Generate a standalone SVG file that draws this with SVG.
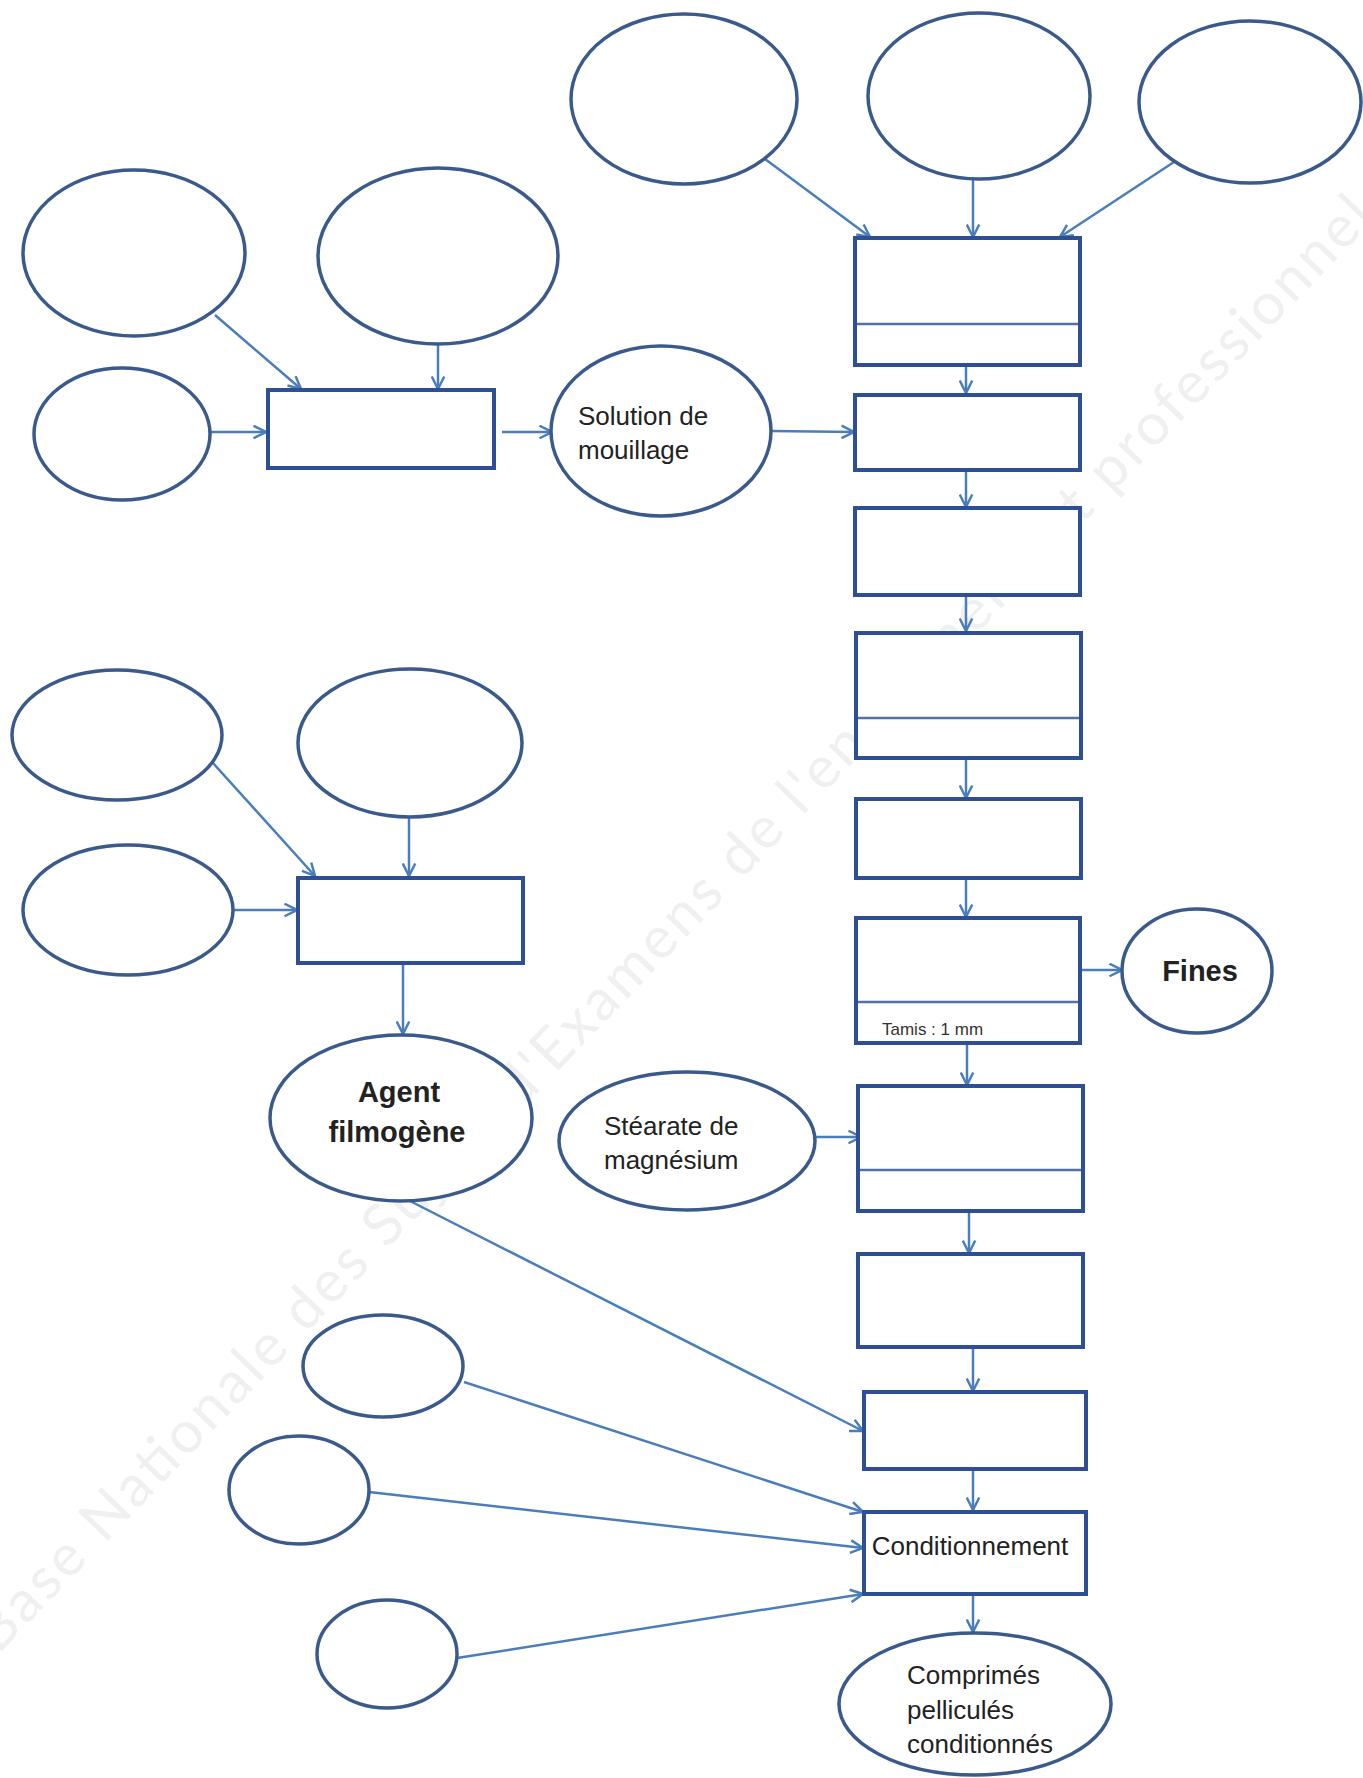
<svg xmlns="http://www.w3.org/2000/svg" width="1363" height="1778" viewBox="0 0 1363 1778">
<style>
.n{fill:#fff;stroke:#3a5a8c;stroke-width:3.5}
.r{fill:#fff;stroke:#2f4f94;stroke-width:4}
.d{stroke:#4f72aa;stroke-width:2.5}
.c{fill:none;stroke:#4a7ebb;stroke-width:2.5;marker-end:url(#ah)}
.t{font-family:"Liberation Sans",Arial,sans-serif;font-size:26px;fill:#222}
.b{font-weight:bold;font-size:29px}
.wm{font-family:Lato,"Open Sans",sans-serif;font-size:58px;fill:#f0f0f0}
</style>
<defs>
<marker id="ah" viewBox="0 0 12 12" refX="11" refY="6" markerWidth="15" markerHeight="15" markerUnits="userSpaceOnUse" orient="auto">
<path d="M1,1 L11,6 L1,11" fill="none" stroke="#4a7ebb" stroke-width="2"/>
</marker>
</defs>
<rect width="1363" height="1778" fill="#fff"/>
<text class="wm" transform="translate(-2,1655) rotate(-46.2)" textLength="1990" lengthAdjust="spacing">Base Nationale des Sujets d'Examens de l'enseignement professionnel</text>

<g id="connectors">
<line class="c" x1="215" y1="315" x2="301" y2="389"/>
<line class="c" x1="438" y1="345" x2="438" y2="389"/>
<line class="c" x1="211" y1="432" x2="266" y2="432"/>
<line class="c" x1="502" y1="432" x2="552" y2="432"/>
<line class="c" x1="771" y1="431" x2="854" y2="432"/>
<line class="c" x1="765" y1="159" x2="870" y2="237"/>
<line class="c" x1="973" y1="180" x2="973" y2="237"/>
<line class="c" x1="1174" y1="162" x2="1060" y2="237"/>
<line class="c" x1="966" y1="324" x2="966" y2="393"/>
<line class="c" x1="966" y1="470" x2="966" y2="507"/>
<line class="c" x1="966" y1="595" x2="966" y2="631"/>
<line class="c" x1="966" y1="718" x2="966" y2="798"/>
<line class="c" x1="966" y1="878" x2="966" y2="917"/>
<line class="c" x1="1082" y1="970" x2="1122" y2="970"/>
<line class="c" x1="967" y1="1043" x2="967" y2="1085"/>
<line class="c" x1="815" y1="1137" x2="861" y2="1137"/>
<line class="c" x1="969" y1="1170" x2="969" y2="1253"/>
<line class="c" x1="973" y1="1347" x2="973" y2="1391"/>
<line class="c" x1="973" y1="1469" x2="973" y2="1510"/>
<line class="c" x1="973" y1="1594" x2="973" y2="1632"/>
<line class="c" x1="212" y1="762" x2="315" y2="876"/>
<line class="c" x1="409" y1="817" x2="409" y2="876"/>
<line class="c" x1="234" y1="910" x2="297" y2="910"/>
<line class="c" x1="403" y1="963" x2="403" y2="1034"/>
<line class="c" x1="408" y1="1200" x2="863" y2="1431"/>
<line class="c" x1="464" y1="1382" x2="863" y2="1512"/>
<line class="c" x1="369" y1="1492" x2="863" y2="1548"/>
<line class="c" x1="457" y1="1658" x2="863" y2="1594"/>
</g>

<g id="top1"><ellipse class="n" cx="684" cy="99" rx="113" ry="85"/></g>
<g id="top2"><ellipse class="n" cx="979" cy="96" rx="111" ry="83"/></g>
<g id="top3"><ellipse class="n" cx="1250" cy="102" rx="111" ry="81"/></g>

<g id="ellA"><ellipse class="n" cx="134" cy="253" rx="111" ry="83"/></g>
<g id="ellB"><ellipse class="n" cx="438" cy="256" rx="120" ry="88"/></g>
<g id="ellC"><ellipse class="n" cx="122" cy="434" rx="88" ry="66"/></g>
<g id="box1"><rect class="r" x="268" y="390" width="226" height="78"/></g>
<g id="solution">
<ellipse class="n" cx="661" cy="431" rx="110" ry="85"/>
<text class="t" x="578" y="425">Solution de</text>
<text class="t" x="578" y="459">mouillage</text>
</g>

<g id="step1"><rect class="r" x="855" y="238" width="225" height="127"/><line class="d" x1="857" y1="324" x2="1078" y2="324"/></g>
<g id="step2"><rect class="r" x="855" y="395" width="225" height="75"/></g>
<g id="step3"><rect class="r" x="855" y="508" width="225" height="87"/></g>
<g id="step4"><rect class="r" x="856" y="633" width="225" height="125"/><line class="d" x1="858" y1="718" x2="1079" y2="718"/></g>
<g id="step5"><rect class="r" x="856" y="799" width="225" height="79"/></g>
<g id="step6"><rect class="r" x="856" y="918" width="224" height="125"/><line class="d" x1="858" y1="1002" x2="1078" y2="1002"/>
<text class="t" x="882" y="1035" style="font-size:17px;fill:#333">Tamis : 1 mm</text></g>
<g id="fines"><ellipse class="n" cx="1197" cy="971" rx="75" ry="62"/><text class="t b" x="1200" y="981" text-anchor="middle">Fines</text></g>
<g id="step7"><rect class="r" x="858" y="1086" width="225" height="125"/><line class="d" x1="860" y1="1170" x2="1081" y2="1170"/></g>
<g id="stearate"><ellipse class="n" cx="687" cy="1141" rx="128" ry="69"/>
<text class="t" x="604" y="1135">Stéarate de</text>
<text class="t" x="604" y="1169">magnésium</text></g>
<g id="step8"><rect class="r" x="858" y="1254" width="225" height="93"/></g>
<g id="step9"><rect class="r" x="864" y="1392" width="222" height="77"/></g>
<g id="conditionnement"><rect class="r" x="864" y="1512" width="222" height="82"/>
<text class="t" x="970" y="1555" text-anchor="middle">Conditionnement</text></g>
<g id="comprimes"><ellipse class="n" cx="975" cy="1704" rx="136" ry="71"/>
<text class="t" x="907" y="1684">Comprimés</text>
<text class="t" x="907" y="1719">pelliculés</text>
<text class="t" x="907" y="1753">conditionnés</text></g>

<g id="ellD"><ellipse class="n" cx="117" cy="735" rx="105" ry="65"/></g>
<g id="ellE"><ellipse class="n" cx="410" cy="743" rx="112" ry="74"/></g>
<g id="ellF"><ellipse class="n" cx="128" cy="910" rx="105" ry="65"/></g>
<g id="box2"><rect class="r" x="298" y="878" width="225" height="85"/></g>
<g id="agent"><ellipse class="n" cx="401" cy="1118" rx="131" ry="83"/>
<text class="t b" x="399" y="1102" text-anchor="middle">Agent</text>
<text class="t b" x="397" y="1142" text-anchor="middle">filmogène</text></g>

<g id="ellG"><ellipse class="n" cx="383" cy="1366" rx="80" ry="51"/></g>
<g id="ellH"><ellipse class="n" cx="299" cy="1490" rx="70" ry="54"/></g>
<g id="ellI"><ellipse class="n" cx="387" cy="1654" rx="70" ry="54"/></g>
</svg>
